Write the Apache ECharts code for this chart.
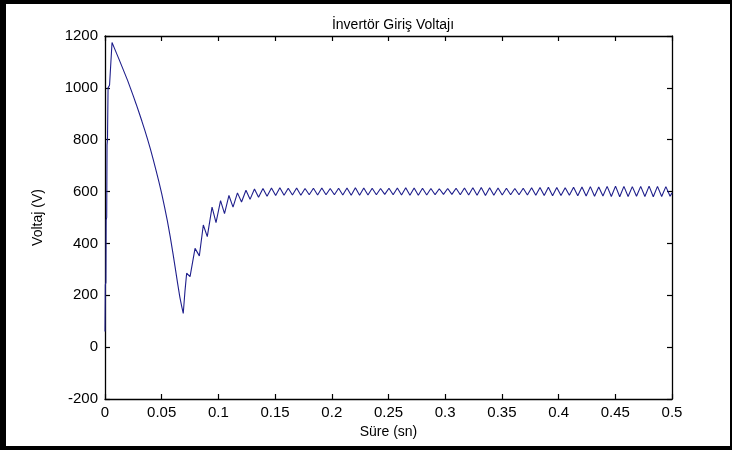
<!DOCTYPE html>
<html>
<head>
<meta charset="utf-8">
<script src="https://cdn.jsdelivr.net/npm/echarts@6/dist/echarts.min.js"></script>
<style>html,body{margin:0;padding:0;background:#fff}#c{width:732px;height:450px}</style>
</head>
<body>
<div id="c"></div>
<script>
const titleText = 'İnvertör Giriş Voltajı';
const xName = 'Süre (sn)';
const yName = 'Voltaj (V)';
const xTicks = [0, 0.05, 0.1, 0.15, 0.2, 0.25, 0.3, 0.35, 0.4, 0.45, 0.5];
const yTicks = [-200, 0, 200, 400, 600, 800, 1000, 1200];

// start-up and dip
const tStart = [0, 0.0003, 0.0008, 0.0010, 0.0015, 0.0018, 0.0022, 0.0027, 0.0040, 0.0062,
  0.0080, 0.010, 0.0125, 0.015, 0.0175, 0.020, 0.0225, 0.025, 0.0275, 0.030, 0.0325, 0.035,
  0.0375, 0.040, 0.0425, 0.045, 0.0475, 0.050, 0.0525, 0.055, 0.0575, 0.060, 0.062, 0.064,
  0.066, 0.0675, 0.0690];
const vStart = [60, 240, 250, 490, 500, 780, 800, 1000, 1010, 1175,
  1156, 1135, 1109, 1082, 1055, 1028, 998, 968, 937, 905, 872, 838,
  802, 765, 724, 682, 638, 592, 541, 487, 426, 360, 304, 247,
  193, 160, 130];

// recovery with ripple
const tRec = [0.0705, 0.0720, 0.0750, 0.0794, 0.0832, 0.0867, 0.0902, 0.0944, 0.0979, 0.1019, 0.1054,
  0.1093, 0.1129, 0.1168, 0.1204, 0.1243, 0.1279, 0.1318, 0.1354, 0.1393, 0.1429];
const vRec = [215, 285, 272, 381, 352, 471, 426, 540, 480, 565, 515,
  585, 540, 595, 560, 605, 570, 610, 578, 612, 582];

// steady state ripple
const tSteady = [0.1468, 0.1505, 0.1542, 0.1579, 0.1616, 0.1653, 0.1690, 0.1727, 0.1764, 0.1801,
  0.1838, 0.1875, 0.1912, 0.1949, 0.1986, 0.2023, 0.2060, 0.2097, 0.2134, 0.2171,
  0.2208, 0.2245, 0.2282, 0.2319, 0.2356, 0.2393, 0.2430, 0.2467, 0.2504, 0.2541,
  0.2578, 0.2615, 0.2652, 0.2689, 0.2726, 0.2763, 0.2800, 0.2837, 0.2874, 0.2911,
  0.2948, 0.2985, 0.3022, 0.3059, 0.3096, 0.3133, 0.3170, 0.3207, 0.3244, 0.3281,
  0.3318, 0.3355, 0.3392, 0.3429, 0.3466, 0.3503, 0.3540, 0.3577, 0.3614, 0.3651,
  0.3688, 0.3725, 0.3762, 0.3799, 0.3836, 0.3873, 0.3910, 0.3947, 0.3984, 0.4021,
  0.4058, 0.4095, 0.4132, 0.4169, 0.4206, 0.4243, 0.4280, 0.4317, 0.4354, 0.4391,
  0.4428, 0.4465, 0.4502, 0.4539, 0.4576, 0.4613, 0.4650, 0.4687, 0.4724, 0.4761,
  0.4798, 0.4835, 0.4872, 0.4909, 0.4946, 0.4983, 0.5000];
const vSteady = [614, 585, 615, 586, 613, 587, 614, 586, 612, 588,
  613, 587, 614, 588, 612, 588, 613, 587, 614, 586,
  615, 586, 614, 587, 613, 588, 612, 589, 613, 588,
  614, 587, 615, 586, 614, 586, 613, 587, 612, 588,
  611, 589, 612, 589, 613, 588, 614, 587, 615, 586,
  616, 585, 615, 586, 614, 587, 613, 588, 612, 588,
  613, 587, 615, 586, 616, 585, 617, 584, 616, 585,
  615, 586, 617, 584, 618, 583, 619, 582, 618, 583,
  620, 581, 621, 580, 620, 581, 619, 582, 620, 581,
  621, 580, 620, 581, 619, 582, 595];

const times = tStart.concat(tRec, tSteady);
const volts = vStart.concat(vRec, vSteady);
const data = times.map((t, i) => [t, volts[i]]);

const font = '"Liberation Sans", Arial, sans-serif';
const fmtX = v => String(+v.toFixed(2));
const fmtY = v => String(Math.round(v));

const chart = echarts.init(document.getElementById('c'), null, {renderer: 'canvas'});
const axisCommon = {
  axisLine: {show: true, onZero: false, lineStyle: {color: '#000', width: 1.3}},
  axisTick: {show: true, inside: true, length: 5, lineStyle: {color: '#000', width: 1.2}},
  splitLine: {show: false}
};
chart.setOption({
  backgroundColor: '#fff',
  animation: false,
  title: {
    text: titleText, left: 388, top: 13, textAlign: 'center',
    textStyle: {fontFamily: font, fontSize: 14, fontWeight: 'normal', color: '#000'}
  },
  grid: {left: 105, right: 60, top: 36, bottom: 51, containLabel: false},
  xAxis: [
    Object.assign({
      type: 'value', min: xTicks[0], max: xTicks[xTicks.length - 1], interval: 0.05,
      name: xName, nameLocation: 'middle', nameGap: 26,
      nameTextStyle: {fontFamily: font, fontSize: 14, color: '#000'},
      axisLabel: {fontFamily: font, fontSize: 15, color: '#000', margin: 6, formatter: fmtX}
    }, axisCommon),
    Object.assign({
      type: 'value', position: 'top', min: xTicks[0], max: xTicks[xTicks.length - 1], interval: 0.05,
      axisLabel: {show: false}
    }, axisCommon)
  ],
  yAxis: [
    Object.assign({
      type: 'value', min: yTicks[0], max: yTicks[yTicks.length - 1], interval: 200,
      name: yName, nameLocation: 'middle', nameGap: 60,
      nameTextStyle: {fontFamily: font, fontSize: 14, color: '#000'},
      axisLabel: {fontFamily: font, fontSize: 15, color: '#000', margin: 7, formatter: fmtY}
    }, axisCommon),
    Object.assign({
      type: 'value', position: 'right', min: yTicks[0], max: yTicks[yTicks.length - 1], interval: 200,
      axisLabel: {show: false}
    }, axisCommon)
  ],
  series: [{
    type: 'line', data: data, xAxisIndex: 0, yAxisIndex: 0,
    showSymbol: false, symbol: 'none',
    lineStyle: {color: '#1f1f8c', width: 1.1}
  }],
  graphic: [
    {type: 'rect', shape: {x: 0, y: 0, width: 732, height: 4}, style: {fill: '#000'}},
    {type: 'rect', shape: {x: 0, y: 0, width: 6, height: 450}, style: {fill: '#000'}},
    {type: 'rect', shape: {x: 0, y: 446, width: 732, height: 4}, style: {fill: '#000'}},
    {type: 'rect', shape: {x: 730, y: 0, width: 2, height: 450}, style: {fill: '#000'}}
  ]
});
</script>
</body>
</html>
